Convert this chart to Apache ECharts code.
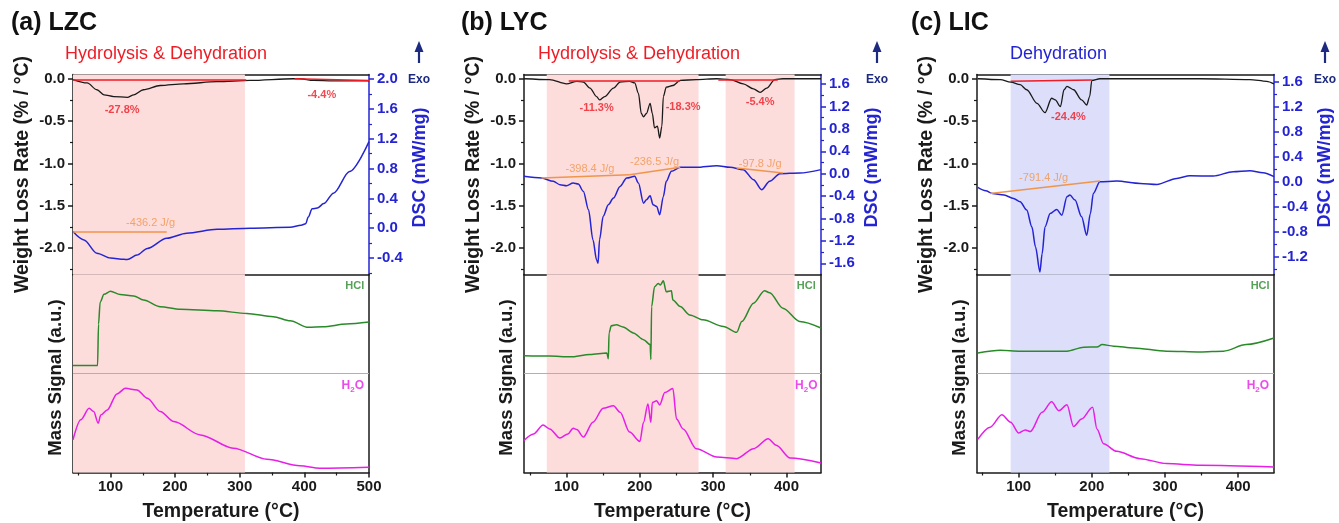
<!DOCTYPE html>
<html>
<head>
<meta charset="utf-8">
<script src="https://cdn.jsdelivr.net/npm/echarts@6/dist/echarts.min.js"></script>
<style>
  html, body { margin: 0; padding: 0; background: #fff; }
  #main { width: 1339px; height: 523px; }
</style>
</head>
<body>
<div id="main"></div>
<script>
// ---- data ----
// (a) LZC
const aTgX = [42, 64, 79, 90, 105, 126, 136, 151, 177, 213, 265, 316, 383, 393, 414, 445, 500]
const aTgY = [-0.01, -0.05, -0.13, -0.19, -0.21, -0.22, -0.19, -0.13, -0.08, -0.06, -0.035, -0.02, 0.0, 0.0, -0.02, -0.025, -0.025]
const aDscX = [42, 59, 79, 100, 121, 126, 141, 157, 187, 218, 265, 316, 378, 395, 402, 406, 412, 420, 430, 445, 470, 500]
const aDscY = [-0.045, -0.157, -0.335, -0.40, -0.415, -0.42, -0.36, -0.27, -0.134, -0.067, -0.014, 0.0, 0.013, 0.04, 0.06, 0.15, 0.26, 0.27, 0.33, 0.47, 0.76, 1.16]
const aHclX = [42, 80, 81.5, 84, 90, 100, 115, 136, 151, 177, 208, 265, 311, 352, 378, 406, 429, 465, 500]
const aHclY = [54, 54, 75, 86, 90, 91.5, 89.9, 89.2, 87.1, 83.7, 82.4, 81.7, 80.3, 78.7, 76.6, 73.3, 73.6, 75, 76]
const aH2oX = [42, 54, 67, 74, 81, 85, 95, 110, 123, 141, 157, 177, 198, 239, 290, 342, 393, 424, 500]
const aH2oY = [16.5, 26.6, 32.4, 30.8, 24.9, 29, 31.6, 39.7, 42.5, 41.7, 37.5, 30.8, 25.7, 19, 12.3, 6.7, 3.4, 2.2, 2.7]
const aTgBase = [[42, -0.01, 310, -0.01], [385, 0, 500, -0.02]]
const aDscBase = [[42, -0.045, 187, -0.045]]
const aTgNotes = [[118, -0.37, '-27.8%'], [427, -0.19, '-4.4%']]
const aDscNotes = [[162, 0.075, '-436.2 J/g']]
const aShade = [[42, 308]]
const aDscTicks = [2.0, 1.6, 1.2, 0.8, 0.4, 0.0, -0.4]

// (b) LYC
const bTgX = [42, 77, 100, 114, 123, 132, 141, 145, 152, 164, 173, 186, 193, 198, 202, 205, 209, 214, 217, 220, 224, 227, 230, 232, 236, 245, 255, 277, 305, 323, 341, 355, 364, 373, 384, 395, 447]
const bTgY = [0, -0.01, -0.06, -0.03, -0.04, -0.11, -0.21, -0.25, -0.21, -0.11, -0.04, -0.03, -0.05, -0.17, -0.41, -0.45, -0.41, -0.29, -0.41, -0.58, -0.56, -0.70, -0.56, -0.21, -0.10, -0.08, -0.02, -0.01, 0, -0.01, -0.06, -0.12, -0.16, -0.11, -0.01, 0, 0]
const bDscX = [42, 66, 82, 91, 100, 109, 116, 123, 130, 136, 141, 143, 145, 150, 157, 164, 173, 182, 193, 198, 205, 209, 214, 218, 223, 227, 232, 236, 243, 255, 277, 305, 323, 341, 355, 366, 377, 391, 418, 447]
const bDscY = [-0.048, -0.078, -0.137, -0.197, -0.215, -0.167, -0.185, -0.317, -0.645, -1.18, -1.54, -1.6, -1.18, -0.76, -0.556, -0.436, -0.227, -0.078, -0.048, -0.167, -0.526, -0.466, -0.394, -0.556, -0.585, -0.735, -0.41, -0.137, 0.042, 0.113, 0.113, 0.143, 0.113, 0.072, -0.108, -0.287, -0.137, 0, 0.012, 0.072]
const bHclX = [42, 77, 105, 132, 155, 157, 158, 161, 168, 177, 191, 205, 214, 215, 216, 220, 225, 228, 232, 236, 243, 245, 255, 268, 286, 314, 332, 339, 355, 370, 377, 395, 418, 447]
const bHclY = [59, 58.8, 58.4, 59.6, 60.4, 57.4, 70.5, 74.1, 74.6, 73.5, 70.5, 67.1, 64.6, 57.1, 83.8, 93.8, 95.5, 94.7, 96.8, 91.3, 91.8, 87.1, 83.8, 79.6, 77.1, 73.8, 70.8, 76.3, 85.5, 91.8, 90.8, 83, 76.3, 73]
const bH2oX = [42, 55, 68, 77, 91, 102, 109, 114, 123, 136, 150, 164, 173, 186, 200, 205, 211, 215, 217, 223, 227, 234, 245, 250, 259, 277, 305, 332, 355, 375, 386, 405, 447]
const bH2oY = [16.2, 19.5, 24, 22, 17.4, 19.5, 22.4, 21.7, 17.9, 25.4, 32.4, 33.7, 30.4, 20.4, 15.7, 25.4, 34.6, 25.4, 35.4, 36.2, 34.1, 40.4, 42.4, 27, 22, 12, 7.8, 7, 12, 17, 13.7, 7.3, 4.8]
const bTgBase = [[103, -0.02, 255, -0.02], [307, -0.01, 388, -0.01]]
const bDscBase = [[66, -0.078, 186, -0.018], [186, -0.018, 255, 0.113], [332, 0.1, 395, 0.012]]
const bTgNotes = [[141, -0.35, '-11.3%'], [259, -0.33, '-18.3%'], [364, -0.28, '-5.4%']]
const bDscNotes = [[132, 0.084, '-398.4 J/g'], [220, 0.2, '-236.5 J/g'], [364, 0.17, '-97.8 J/g']]
const bShade = [[73, 280], [317, 411]]
const bDscTicks = [1.6, 1.2, 0.8, 0.4, 0.0, -0.4, -0.8, -1.2, -1.6]

// (c) LIC
const cTgX = [44, 75, 89, 102, 111, 125, 136, 145, 150, 157, 162, 166, 175, 186, 193, 197, 200, 211, 257, 348, 416, 439, 449]
const cTgY = [0, -0.01, -0.04, -0.07, -0.13, -0.29, -0.40, -0.23, -0.25, -0.33, -0.13, -0.09, -0.13, -0.25, -0.31, -0.21, -0.02, 0, 0, 0, -0.01, -0.03, -0.06]
const cDscX = [44, 55, 64, 80, 93, 102, 111, 118, 123, 129, 132, 136, 143, 152, 159, 166, 170, 177, 186, 193, 198, 202, 211, 234, 266, 289, 316, 334, 366, 393, 416, 434, 449]
const cDscY = [-0.09, -0.144, -0.187, -0.213, -0.267, -0.32, -0.453, -0.72, -1.04, -1.44, -1.15, -0.72, -0.507, -0.443, -0.533, -0.24, -0.213, -0.293, -0.56, -0.853, -0.507, -0.187, 0, 0.01, -0.027, -0.043, 0.053, 0.096, 0.09, 0.16, 0.176, 0.144, 0.08]
const cHclX = [44, 75, 102, 166, 189, 207, 214, 230, 257, 302, 348, 380, 411, 449]
const cHclY = [60.4, 61.8, 61.3, 61.3, 63.3, 63.4, 64.6, 63.8, 62.9, 61.3, 60.8, 61.3, 64.6, 67.9]
const cH2oX = [44, 61, 77, 89, 100, 109, 116, 132, 145, 155, 166, 175, 186, 201, 207, 216, 234, 266, 302, 348, 449]
const cH2oY = [16.7, 22.9, 29.2, 25.4, 20, 21.5, 20.7, 30.4, 35.7, 31.2, 34.2, 23.2, 27, 32.9, 22, 14.5, 10.7, 7, 4.5, 3.7, 2.8]
const cTgBase = [[89, -0.03, 200, -0.016]]
const cDscBase = [[61, -0.187, 211, 0.01]]
const cTgNotes = [[168, -0.45, '-24.4%']]
const cDscNotes = [[134, 0.053, '-791.4 J/g']]
const cShade = [[89, 224]]
const cDscTicks = [1.6, 1.2, 0.8, 0.4, 0.0, -0.4, -0.8, -1.2]

const xTicks = [100, 200, 300, 400, 500]
const wlrTicks = [0.0, -0.5, -1.0, -1.5, -2.0]
const msDivider = 50 // the grey line between the HCl and H2O traces

// ---- styling ----
const FONT = 'Liberation Sans, Arial, sans-serif'
const BLACK = '#1a1a1a'
const BLUE = '#2424d2'
const NAVY = '#1c2a80'
const RED = '#ee1c25'
const ORANGE = '#f0954a'
const GREEN = '#2a8a2a'
const MAGENTA = '#e61ee6'
const PINK = '#fddcdc'
const LAVENDER = '#dcdefa'

const panels = [
  { title: '(a) LZC', proc: 'Hydrolysis & Dehydration', procColor: RED, tx: 11, px: 65, exoX: 419,
    left: 73, width: 296, xMin: 42, xMax: 500, dscMin: -0.62, dscMax: 2.06, dscTicks: aDscTicks,
    tgX: aTgX, tgY: aTgY, dscX: aDscX, dscY: aDscY, hclX: aHclX, hclY: aHclY, h2oX: aH2oX, h2oY: aH2oY,
    tgBase: aTgBase, dscBase: aDscBase, tgNotes: aTgNotes, dscNotes: aDscNotes, shade: aShade, shadeColor: PINK,
    hclLabel: [478, 94], h2oLabel: [475, 43.7] },
  { title: '(b) LYC', proc: 'Hydrolysis & Dehydration', procColor: RED, tx: 461, px: 538, exoX: 877,
    left: 524, width: 297, xMin: 42, xMax: 447, dscMin: -1.80, dscMax: 1.77, dscTicks: bDscTicks,
    tgX: bTgX, tgY: bTgY, dscX: bDscX, dscY: bDscY, hclX: bHclX, hclY: bHclY, h2oX: bH2oX, h2oY: bH2oY,
    tgBase: bTgBase, dscBase: bDscBase, tgNotes: bTgNotes, dscNotes: bDscNotes, shade: bShade, shadeColor: PINK,
    hclLabel: [427, 94], h2oLabel: [427, 43.7] },
  { title: '(c) LIC', proc: 'Dehydration', procColor: BLUE, tx: 911, px: 1010, exoX: 1325,
    left: 977, width: 297, xMin: 43, xMax: 449, dscMin: -1.48, dscMax: 1.71, dscTicks: cDscTicks,
    tgX: cTgX, tgY: cTgY, dscX: cDscX, dscY: cDscY, hclX: cHclX, hclY: cHclY, h2oX: cH2oX, h2oY: cH2oY,
    tgBase: cTgBase, dscBase: cDscBase, tgNotes: cTgNotes, dscNotes: cDscNotes, shade: cShade, shadeColor: LAVENDER,
    hclLabel: [430, 94], h2oLabel: [427, 43.7] }
]

function pairs(xs, ys) {
  return xs.map((x, i) => [x, ys[i]])
}

// minor ticks halfway between majors, plus half a step past each end when still inside
function halves(major, min, max) {
  const out = []
  const step = major[1] - major[0]
  const all = [major[0] - step / 2]
  for (let i = 0; i < major.length - 1; i++) all.push((major[i] + major[i + 1]) / 2)
  all.push(major[major.length - 1] + step / 2)
  all.forEach(v => {
    const r = Math.round(v * 1000) / 1000
    if (r > Math.min(min, max) && r < Math.max(min, max)) out.push(r)
  })
  return out
}

const grids = []
const xAxes = []
const yAxes = []
const series = []
const graphics = []

const lineAxis = (color) => ({ show: true, onZero: false, lineStyle: { color: color, width: 1.5 } })
const labelStyle = (color) => ({ color: color, fontFamily: FONT, fontWeight: 'bold', fontSize: 15 })

panels.forEach(p => {
  const gTop = grids.length
  grids.push({ left: p.left, top: 74.5, width: p.width, height: 200 })
  const gBot = grids.length
  grids.push({ left: p.left, top: 274.5, width: p.width, height: 198 })

  const xMajor = xTicks.filter(v => v > p.xMin && v <= p.xMax)
  const xMinor = halves(xTicks, p.xMin, p.xMax)

  // x axes
  const xTop = xAxes.length
  xAxes.push({ type: 'value', gridIndex: gTop, position: 'top', min: p.xMin, max: p.xMax,
    axisLine: lineAxis(BLACK), axisTick: { show: false }, axisLabel: { show: false }, splitLine: { show: false } })
  const xBot = xAxes.length
  xAxes.push({ type: 'value', gridIndex: gBot, position: 'bottom', min: p.xMin, max: p.xMax,
    axisLine: lineAxis(BLACK),
    axisTick: { show: true, length: 5, customValues: xMajor, lineStyle: { color: BLACK, width: 1.5 } },
    axisLabel: Object.assign({ customValues: xMajor, margin: 7 }, labelStyle(BLACK)),
    splitLine: { show: false },
    name: 'Temperature (°C)', nameLocation: 'middle', nameGap: 29,
    nameTextStyle: { color: BLACK, fontFamily: FONT, fontWeight: 'bold', fontSize: 19.5 } })
  xAxes.push({ type: 'value', gridIndex: gBot, position: 'bottom', min: p.xMin, max: p.xMax,
    axisLine: { show: false }, axisLabel: { show: false }, splitLine: { show: false },
    axisTick: { show: true, length: 3, customValues: xMinor, lineStyle: { color: BLACK, width: 1.2 } } })
  xAxes.push({ type: 'value', gridIndex: gBot, position: 'top', min: p.xMin, max: p.xMax,
    axisLine: lineAxis(BLACK), axisTick: { show: false }, axisLabel: { show: false }, splitLine: { show: false } })

  // y axes, top grid
  const yLeft = yAxes.length
  yAxes.push({ type: 'value', gridIndex: gTop, position: 'left', min: -2.31, max: 0.05,
    axisLine: lineAxis(BLACK),
    axisTick: { show: true, length: 5, customValues: wlrTicks, lineStyle: { color: BLACK, width: 1.5 } },
    axisLabel: Object.assign({ customValues: wlrTicks, margin: 8, formatter: v => v.toFixed(1) }, labelStyle(BLACK)),
    splitLine: { show: false },
    name: 'Weight Loss Rate (% / °C)', nameLocation: 'middle', nameGap: 40,
    nameTextStyle: { color: BLACK, fontFamily: FONT, fontWeight: 'bold', fontSize: 19.5 } })
  yAxes.push({ type: 'value', gridIndex: gTop, position: 'left', min: -2.31, max: 0.05,
    axisLine: { show: false }, axisLabel: { show: false }, splitLine: { show: false },
    axisTick: { show: true, length: 3, customValues: halves(wlrTicks, -2.31, 0.05), lineStyle: { color: BLACK, width: 1.2 } } })
  const yRight = yAxes.length
  yAxes.push({ type: 'value', gridIndex: gTop, position: 'right', min: p.dscMin, max: p.dscMax,
    axisLine: lineAxis(BLUE),
    axisTick: { show: true, length: 5, customValues: p.dscTicks, lineStyle: { color: BLUE, width: 1.5 } },
    axisLabel: Object.assign({ customValues: p.dscTicks, margin: 8, formatter: v => v.toFixed(1) }, labelStyle(BLUE)),
    splitLine: { show: false },
    name: 'DSC (mW/mg)', nameLocation: 'middle', nameGap: 42,
    nameTextStyle: { color: BLUE, fontFamily: FONT, fontWeight: 'bold', fontSize: 18, padding: [0, 0, 0, 14] } })
  yAxes.push({ type: 'value', gridIndex: gTop, position: 'right', min: p.dscMin, max: p.dscMax,
    axisLine: { show: false }, axisLabel: { show: false }, splitLine: { show: false },
    axisTick: { show: true, length: 3, customValues: halves(p.dscTicks, p.dscMin, p.dscMax), lineStyle: { color: BLUE, width: 1.2 } } })

  // y axes, lower grid
  const yMs = yAxes.length
  yAxes.push({ type: 'value', gridIndex: gBot, position: 'left', min: 0, max: 100,
    axisLine: lineAxis(BLACK), axisTick: { show: false }, axisLabel: { show: false },
    splitLine: { show: false },
    name: 'Mass Signal (a.u.)', nameLocation: 'middle', nameGap: 8,
    nameTextStyle: { color: BLACK, fontFamily: FONT, fontWeight: 'bold', fontSize: 18.5, padding: [0, 0, 0, -8] } })
  yAxes.push({ type: 'value', gridIndex: gBot, position: 'right', min: 0, max: 100,
    axisLine: lineAxis(BLACK), axisTick: { show: false }, axisLabel: { show: false }, splitLine: { show: false } })

  const shadeData = p.shade.map(s => [{ xAxis: s[0] }, { xAxis: s[1] }])
  const baseLines = (arr) => arr.map(b => [{ coord: [b[0], b[1]] }, { coord: [b[2], b[3]] }])

  // shaded temperature windows
  series.push({ type: 'line', xAxisIndex: xTop, yAxisIndex: yLeft, data: [], z: 1,
    markArea: { silent: true, itemStyle: { color: p.shadeColor }, data: shadeData } })
  series.push({ type: 'line', xAxisIndex: xBot, yAxisIndex: yMs, data: [], z: 1,
    markArea: { silent: true, itemStyle: { color: p.shadeColor }, data: shadeData } })

  // weight loss rate
  series.push({ type: 'line', xAxisIndex: xTop, yAxisIndex: yLeft, data: pairs(p.tgX, p.tgY),
    showSymbol: false, smooth: 0.3, smoothMonotone: 'x', z: 3,
    lineStyle: { color: BLACK, width: 1.3 },
    markLine: { silent: true, symbol: ['none', 'none'], label: { show: false },
      lineStyle: { color: RED, width: 1.5, type: 'solid' }, data: baseLines(p.tgBase) } })
  // DSC
  series.push({ type: 'line', xAxisIndex: xTop, yAxisIndex: yRight, data: pairs(p.dscX, p.dscY),
    showSymbol: false, smooth: 0.3, smoothMonotone: 'x', z: 3,
    lineStyle: { color: BLUE, width: 1.5 },
    markLine: { silent: true, symbol: ['none', 'none'], label: { show: false },
      lineStyle: { color: ORANGE, width: 1.5, type: 'solid' }, data: baseLines(p.dscBase) } })
  // HCl and H2O mass signals
  series.push({ type: 'line', xAxisIndex: xBot, yAxisIndex: yMs, data: pairs(p.hclX, p.hclY),
    showSymbol: false, smooth: 0.3, smoothMonotone: 'x', z: 3, lineStyle: { color: GREEN, width: 1.5 } })
  series.push({ type: 'line', xAxisIndex: xBot, yAxisIndex: yMs, data: pairs(p.h2oX, p.h2oY),
    showSymbol: false, smooth: 0.3, smoothMonotone: 'x', z: 3, lineStyle: { color: MAGENTA, width: 1.5 },
    markLine: { silent: true, symbol: ['none', 'none'], label: { show: false },
      lineStyle: { color: '#b0b0b0', width: 1, type: 'solid' }, data: [{ yAxis: msDivider }] } })

  // annotations
  const noteSeries = (notes, xi, yi, color, weight) => ({
    type: 'scatter', xAxisIndex: xi, yAxisIndex: yi, data: notes, symbolSize: 1, z: 4,
    itemStyle: { color: 'rgba(0,0,0,0)' },
    label: { show: true, position: 'inside', formatter: q => q.data[2], color: color,
      fontFamily: FONT, fontWeight: weight, fontSize: 11 } })
  series.push(noteSeries(p.tgNotes, xTop, yLeft, RED, 'bold'))
  series.push(noteSeries(p.dscNotes, xTop, yRight, ORANGE, 'normal'))
  series.push(noteSeries([[p.hclLabel[0], p.hclLabel[1], 'HCl']], xBot, yMs, GREEN, 'bold'))
  series.push({ type: 'scatter', xAxisIndex: xBot, yAxisIndex: yMs, data: [p.h2oLabel], symbolSize: 1, z: 4,
    itemStyle: { color: 'rgba(0,0,0,0)' },
    label: { show: true, position: 'inside', formatter: '{t|H}{s|2}{t|O}',
      rich: { t: { color: MAGENTA, fontFamily: FONT, fontWeight: 'bold', fontSize: 12 },
        s: { color: MAGENTA, fontFamily: FONT, fontWeight: 'bold', fontSize: 8, padding: [7, 0, 0, 0] } } } })

  // panel title, process label, exo arrow
  graphics.push({ type: 'text', left: p.tx, top: 11,
    style: { text: p.title, fill: '#111', font: 'bold 25px ' + FONT } })
  graphics.push({ type: 'text', left: p.px, top: 45,
    style: { text: p.proc, fill: p.procColor, font: '18px ' + FONT } })
  graphics.push({ type: 'group', x: p.exoX, y: 0, children: [
    { type: 'line', shape: { x1: 0, y1: 63, x2: 0, y2: 50 }, style: { stroke: NAVY, lineWidth: 2.2 } },
    { type: 'polygon', shape: { points: [[-4.5, 52], [4.5, 52], [0, 41]] }, style: { fill: NAVY } },
    { type: 'text', x: 0, y: 80, style: { text: 'Exo', fill: NAVY, font: 'bold 12px ' + FONT, align: 'center', verticalAlign: 'middle' } }
  ] })
})

const chart = echarts.init(document.getElementById('main'))
chart.setOption({
  animation: false,
  backgroundColor: '#fff',
  grid: grids,
  xAxis: xAxes,
  yAxis: yAxes,
  series: series,
  graphic: graphics
})
</script>
</body>
</html>
